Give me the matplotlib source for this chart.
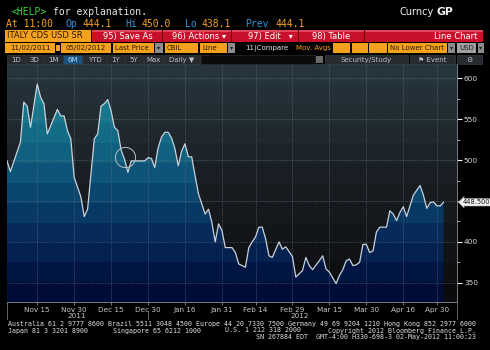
import numpy as np
import matplotlib
matplotlib.use("Agg")
import matplotlib.pyplot as plt
import matplotlib.transforms as mtransforms
from matplotlib.colors import to_rgb
from matplotlib.lines import Line2D
from matplotlib.patches import Polygon, Rectangle

# Italy CDS USD SR, daily, 11/02/2011 - 05/02/2012
start = "2011-11-02"
dates = [
    "2011-11-02", "2011-11-03", "2011-11-08", "2011-11-09", "2011-11-10", "2011-11-11",
    "2011-11-15", "2011-11-16", "2011-11-17", "2011-11-18", "2011-11-23", "2011-11-24",
    "2011-11-25", "2011-11-28", "2011-11-29", "2011-11-30", "2011-12-02", "2011-12-05",
    "2011-12-06", "2011-12-08", "2011-12-09", "2011-12-12", "2011-12-13", "2011-12-14",
    "2011-12-15", "2011-12-16", "2011-12-19", "2011-12-20", "2011-12-21", "2011-12-22",
    "2011-12-23", "2011-12-29", "2011-12-30", "2012-01-02", "2012-01-03", "2012-01-04",
    "2012-01-05", "2012-01-06", "2012-01-09", "2012-01-10", "2012-01-11", "2012-01-12",
    "2012-01-13", "2012-01-16", "2012-01-17", "2012-01-18", "2012-01-19", "2012-01-20",
    "2012-01-24", "2012-01-25", "2012-01-26", "2012-01-27", "2012-01-30", "2012-01-31",
    "2012-02-01", "2012-02-03", "2012-02-06", "2012-02-07", "2012-02-09", "2012-02-10",
    "2012-02-13", "2012-02-14", "2012-02-15", "2012-02-16", "2012-02-17", "2012-02-20",
    "2012-02-21", "2012-02-23", "2012-02-24", "2012-02-27", "2012-02-29", "2012-03-01",
    "2012-03-02", "2012-03-05", "2012-03-06", "2012-03-07", "2012-03-08", "2012-03-12",
    "2012-03-13", "2012-03-14", "2012-03-15", "2012-03-19", "2012-03-20", "2012-03-21",
    "2012-03-22", "2012-03-23", "2012-03-26", "2012-03-27", "2012-03-28", "2012-03-29",
    "2012-03-30", "2012-04-02", "2012-04-03", "2012-04-04", "2012-04-05", "2012-04-09",
    "2012-04-10", "2012-04-11", "2012-04-12", "2012-04-13", "2012-04-16", "2012-04-17",
    "2012-04-18", "2012-04-19", "2012-04-20", "2012-04-23", "2012-04-24", "2012-04-25",
    "2012-04-26", "2012-04-27", "2012-04-30", "2012-05-01", "2012-05-02",
]
spread = [
    499, 486, 522, 571, 566, 540,
    593, 577, 569, 532, 562, 554,
    554, 536, 526, 479, 455, 431,
    440, 526, 532, 566, 569, 574,
    560, 540, 536, 512, 501, 485,
    499, 499, 503, 502, 491, 515,
    528, 534, 534, 527, 514, 493,
    511, 520, 504, 504, 481, 459,
    434, 440, 424, 400, 422, 414,
    393, 393, 387, 373, 369, 393,
    400, 406, 418, 418, 404, 383,
    381, 400, 391, 394, 382, 357,
    361, 365, 381, 371, 366, 377,
    383, 367, 363, 349, 359, 366,
    377, 379, 371, 372, 375, 397,
    397, 387, 389, 412, 418, 418,
    438, 434, 426, 436, 443, 431,
    444, 457, 463, 469, 457, 441,
    448, 449, 444, 444, 448.5,
]
tick_dates = ["2011-11-15", "2011-11-30", "2011-12-15", "2011-12-30", "2012-01-16", "2012-01-31",
              "2012-02-14", "2012-02-29", "2012-03-15", "2012-03-30", "2012-04-16", "2012-04-30"]
tick_labels = ["Nov 15", "Nov 30", "Dec 15", "Dec 30", "Jan 16", "Jan 31",
               "Feb 14", "Feb 29", "Mar 15", "Mar 30", "Apr 16", "Apr 30"]
y_ticks = [350, 400, 450, 500, 550, 600]
y_labels = ["350", "400", "", "500", "550", "600"]
last_price = 448.5

W, H = 490, 350
ORANGE = "#f4a21e"
DARK = "#2a1800"
GREY = "#8c8c8c"
MONO = "DejaVu Sans Mono"

fig = plt.figure(figsize=(W / 100, H / 100), dpi=100, facecolor="black")


def box(x0, y0, x1, y1, fc, ec="none", lw=0.0):
    fig.add_artist(Rectangle((x0 / W, 1 - y1 / H), (x1 - x0) / W, (y1 - y0) / H,
                             transform=fig.transFigure, fc=fc, ec=ec, lw=lw))


def text(x, y, s, color="white", size=6.0, ha="left", **kw):
    fig.text(x / W, 1 - y / H, s, color=color, fontsize=size, ha=ha, va="center", **kw)


def vline(x, y0, y1, color="#707880", lw=0.6):
    fig.add_artist(Line2D([x / W, x / W], [1 - y0 / H, 1 - y1 / H],
                          transform=fig.transFigure, color=color, lw=lw))


def bands(anchors, n):
    fr = [a[0] for a in anchors]
    cols = np.array([to_rgb(a[1]) for a in anchors])
    t = (np.arange(n) + 0.5) / n
    return np.stack([np.interp(t, fr, cols[:, k]) for k in range(3)], axis=1)[:, None, :]


# ---- header lines ----
text(12, 12, "<HELP>", color="#3fcf3f", size=7, family=MONO)
text(53, 12, "for explanation.", color="#e8e8e8", size=7, family=MONO)
text(399, 12, "Curncy", color="#f0f0f0", size=7)
text(436, 12, "GP", color="#f0f0f0", size=7.8, weight="bold")

blue = "#3592d8"
for x, s, c in [(6, "At 11:00", ORANGE), (65, "Op", blue), (82, "444.1", ORANGE),
                (125, "Hi", blue), (142, "450.0", ORANGE), (185, "Lo", blue),
                (201, "438.1", ORANGE), (245, "Prev", blue), (275, "444.1", ORANGE)]:
    text(x, 24, s, color=c, size=7, family=MONO)

# ---- red toolbar ----
box(5, 30, 91, 42, ORANGE)
text(7, 36, "ITALY CDS USD SR", color=DARK, size=6)
box(92, 30, 483, 42, "#c8102b")
box(92, 30, 483, 31.5, "#e0465a")
for x in [162, 231, 298, 364]:
    vline(x, 30, 42, color="#6a0010", lw=0.8)
text(103, 36.5, "95) Save As", size=6)
text(172, 36.5, "96) Actions ▾", size=6)
text(248, 36.5, "97) Edit   ▾", size=6)
text(312, 36.5, "98) Table", size=6)
text(477, 36.5, "Line Chart", size=6, ha="right")

# ---- field row ----
for x0, x1, s in [(5, 55, "11/02/2011"), (61, 111, "05/02/2012")]:
    box(x0, 43, x1, 53, ORANGE)
    text((x0 + x1) / 2, 48, s, color=DARK, size=5, ha="center")
box(56, 45, 60, 51, ORANGE)
for x0, x1, s in [(113, 154, "Last Price"), (165, 198, "CBIL"), (200, 227, "Line"),
                  (388, 447, "No Lower Chart")]:
    box(x0, 43, x1, 53, ORANGE)
    text(x0 + 2, 48, s, color=DARK, size=5)
for x0, x1 in [(333, 350), (352, 368), (369, 387)]:
    box(x0, 43, x1, 53, ORANGE)
for x0, x1 in [(155, 163), (228, 235), (448, 455), (478, 484)]:
    box(x0, 43, x1, 53, GREY)
    text((x0 + x1) / 2, 48, "▾", color="#222", size=4.5, ha="center")
box(457, 43, 476, 53, "#a0a0a0")
text(459, 48, "USD", color="#222", size=5)
text(267, 48, "11)Compare", color="#e6e6e6", size=5, ha="center")
text(313, 48, "Mov. Avgs", color=ORANGE, size=5, ha="center")

# ---- range buttons ----
for s, x0, x1 in [("1D", 7, 25), ("3D", 26, 43), ("1M", 44, 62), ("6M", 63, 82),
                  ("YTD", 83, 106), ("1Y", 107, 124), ("5Y", 125, 143), ("Max", 144, 163),
                  ("Daily ▼", 164, 200), ("Security/Study", 325, 408), ("⚑ Event", 410, 455),
                  ("⚙", 457, 482)]:
    on = s == "6M"
    box(x0, 55, x1, 64, "#1b527e" if on else "#272b2f", ec="#3e454c", lw=0.4)
    text((x0 + x1) / 2, 59.7, s, color="#a8d8f5" if on else "#b8c0c8", size=5, ha="center")
box(201, 55, 315, 64, "#0b0b0b", ec="#2e3236", lw=0.4)
box(316, 56, 323, 63, "#6a6a6a")

# ---- chart ----
pos = np.busday_count(start, dates)
tpos = np.busday_count(start, tick_dates)
xmin, xmax, ymin, ymax = 0, 134, 326.5, 617.5

ax = fig.add_axes([7 / W, 1 - 302 / H, 450 / W, 238 / H])
ax.set_xlim(xmin, xmax)
ax.set_ylim(ymin, ymax)
ext = (xmin, xmax, ymin, ymax)

bg = bands([(0, "#28373f"), (0.45, "#1a2026"), (1, "#0a0a0b")], 12)
ax.imshow(bg, extent=ext, aspect="auto", interpolation="nearest", zorder=0)

fill = bands([(0, "#25949f"), (0.15, "#1a7e90"), (0.4, "#0f5e7f"),
              (0.72, "#062a5a"), (1, "#000733")], 12)
im = ax.imshow(fill, extent=ext, aspect="auto", interpolation="nearest", zorder=1)
verts = np.column_stack([pos, spread])
verts = np.vstack([verts, [[pos[-1], ymin], [pos[0], ymin]]])
clip = Polygon(verts, closed=True, fc="none", ec="none", transform=ax.transData)
ax.add_patch(clip)
im.set_clip_path(clip)

ax.plot(pos, spread, color="#c9d2da", lw=0.9, zorder=4)
# highlight circle drawn on the Bloomberg screen
ax.plot(np.busday_count(start, "2011-12-21"), 504, marker="o", ms=14.5,
        mfc="none", mec="#b8c0c8", mew=0.7, zorder=5)

ax.set_xticks(tpos)
ax.set_xticklabels(tick_labels)
ax.set_yticks(y_ticks)
ax.set_yticklabels(y_labels)
ax.set_yticks([375, 425, 475, 525, 575], minor=True)
ax.yaxis.tick_right()
ax.grid(True, color="#66707a", lw=0.5, linestyle=(0, (1, 1.5)))
ax.tick_params(axis="y", which="major", direction="out", length=3.5, width=0.8,
               colors="white", labelcolor="#d8d8d8", labelsize=5.3, pad=1.5)
ax.tick_params(axis="y", which="minor", direction="out", length=2, width=0.6, colors="#cccccc")
ax.tick_params(axis="x", direction="out", length=2, width=0.6, colors="#8a9098",
               labelcolor="#c8c8c8", labelsize=5.2, pad=1.5)
for side in ["top", "left"]:
    ax.spines[side].set_visible(False)
for side in ["right", "bottom"]:
    ax.spines[side].set_color("#8a9098")
    ax.spines[side].set_linewidth(0.6)

blend = mtransforms.blended_transform_factory(ax.transAxes, ax.transData)
ax.text(1.012, last_price, "448.500", transform=blend, ha="left", va="center",
        fontsize=4.8, color="#111111", clip_on=False,
        bbox=dict(boxstyle="larrow,pad=0.12", fc="#f2f2f2", ec="#999999", lw=0.4))

# year band under the axis
vline(7, 302, 319)
vline(148, 311, 319)
vline(457, 302, 319)
text(77, 316, "2011", color="#c8c8c8", size=5.2, ha="center")
text(300, 316, "2012", color="#c8c8c8", size=5.2, ha="center")

# ---- footer ----
fs = 4.8
text(8, 324, "Australia 61 2 9777 8600 Brazil 5511 3048 4500 Europe 44 20 7330 7500 "
     "Germany 49 69 9204 1210 Hong Kong 852 2977 6000", color="#e0e0e0", size=fs, family=MONO)
text(8, 330.5, "Japan 81 3 3201 8900", color="#e0e0e0", size=fs, family=MONO)
text(113, 330.5, "Singapore 65 6212 1000", color="#e0e0e0", size=fs, family=MONO)
text(225, 330.5, "U.S. 1 212 318 2000", color="#e0e0e0", size=fs, family=MONO)
text(476, 330.5, "Copyright 2012 Bloomberg Finance L.P.", color="#e0e0e0", size=fs,
     family=MONO, ha="right")
text(476, 337, "SN 267884 EDT  GMT-4:00 H330-698-3 02-May-2012 11:00:23", color="#e0e0e0",
     size=fs, family=MONO, ha="right")

fig.savefig("out.png", dpi=100, facecolor="black")
